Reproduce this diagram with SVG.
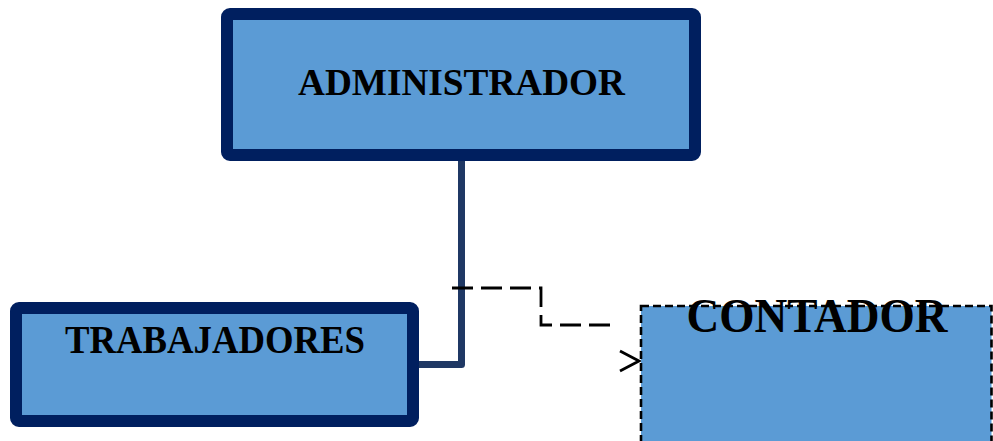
<svg xmlns="http://www.w3.org/2000/svg" width="993" height="441" viewBox="0 0 993 441">
<style>
.box{fill:#5B9BD5;stroke:#001F5F;stroke-width:12}
.lbl{font-family:"Liberation Serif","Times New Roman",serif;font-weight:bold;fill:#000;text-anchor:middle}
.solid{fill:none;stroke:#1F3864;stroke-width:7;stroke-linejoin:round}
.dash{fill:none;stroke:#000;stroke-width:2.8;stroke-dasharray:21 8}
</style>
<rect width="993" height="441" fill="#fff"/>
<g id="connectors">
<polyline class="solid" points="461.5,158 461.5,364.5 416,364.5"/>
<polyline class="dash" points="452,288 541,288 541,325 611,325"/>
<polyline fill="none" stroke="#000" stroke-width="2.8" points="620,351 639,361 620,371"/>
</g>
<g id="administrador">
<rect class="box" x="227" y="14" width="468" height="141" rx="3"/>
<text class="lbl" x="461.5" y="95" font-size="38" textLength="327" lengthAdjust="spacingAndGlyphs">ADMINISTRADOR</text>
</g>
<g id="trabajadores">
<rect class="box" x="16" y="308" width="397" height="113" rx="3"/>
<text class="lbl" x="215" y="353" font-size="39" textLength="300" lengthAdjust="spacingAndGlyphs">TRABAJADORES</text>
</g>
<g id="contador">
<rect x="641" y="306" width="350.5" height="150" fill="#5B9BD5" stroke="#000" stroke-width="2.6" stroke-dasharray="8 4"/>
<text class="lbl" x="817" y="332" font-size="48" textLength="261" lengthAdjust="spacingAndGlyphs">CONTADOR</text>
</g>
</svg>
